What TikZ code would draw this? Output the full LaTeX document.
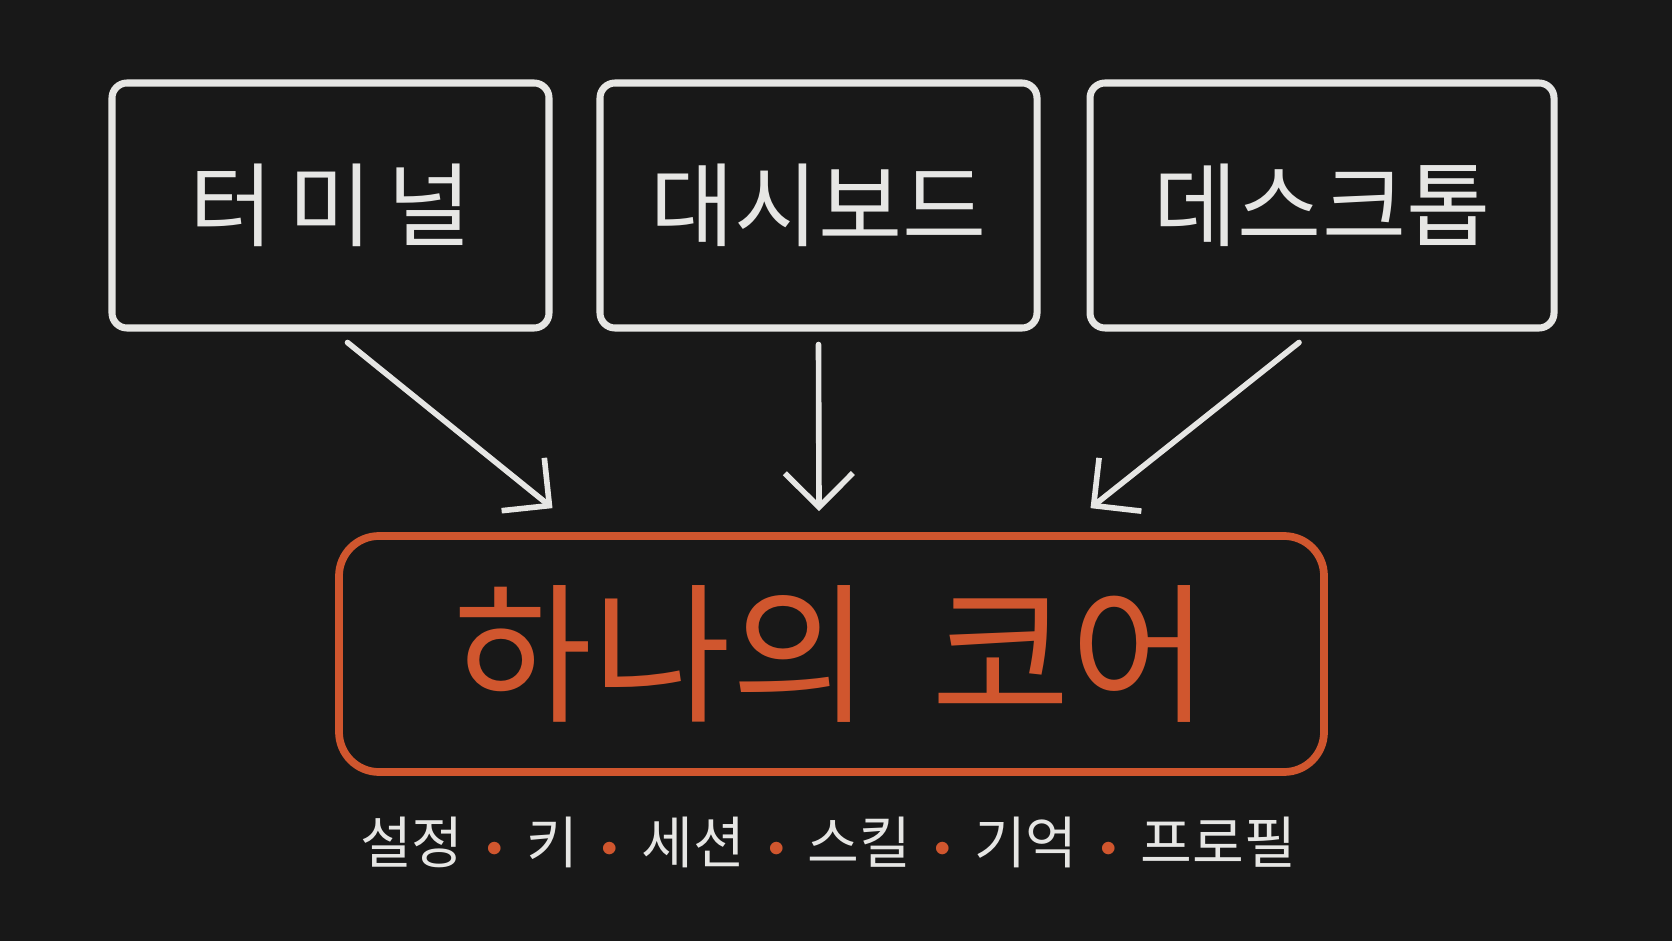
\documentclass[tikz,border=0pt]{standalone}
\usepackage{fontspec}
\usepackage{xcolor}
\usetikzlibrary{arrows.meta,positioning,calc}
\newfontfamily\kr{Noto Sans CJK KR}
\definecolor{board}{HTML}{181818}
\definecolor{chalk}{HTML}{E6E6E4}
\definecolor{rust}{HTML}{D0562E}
\tikzset{
  panel/.style={rectangle, rounded corners=1.5mm, draw=chalk, line width=2pt,
    minimum height=24.5mm, align=center, text=chalk, font=\kr\fontsize{26}{30}\selectfont},
  corebox/.style={rectangle, rounded corners=4mm, draw=rust, line width=2.2pt,
    minimum width=98.5mm, minimum height=23.6mm, text=rust, font=\kr\fontsize{43}{47}\selectfont},
  arr/.style={-{Straight Barb[length=3.4mm,width=6.8mm,line width=1.6pt]}, draw=chalk, line width=1.6pt, line cap=round},
}
\newcommand{\sep}{\hspace{0.2em}\textcolor{rust}{\fontspec{Latin Modern Roman}\textbullet}\hspace{0.2em}}

\begin{document}
\begin{tikzpicture}
  \fill[board] (0,0) rectangle (16.72,9.41);
  \useasboundingbox (0,0) rectangle (16.72,9.41);

  \node[panel, minimum width=43.7mm] (term) at (3.305,7.355) {터\,미\,널};
  \node[panel, minimum width=43.7mm] (dash) at (8.185,7.355) {대시보드};
  \node[panel, minimum width=46.4mm] (desk) at (13.22,7.355) {데스크톱};

  \node[corebox] (core) at (8.315,2.87) {하나의\hspace{0.4em}코어};
  \node[text=chalk, font=\kr\fontsize{16}{19}\selectfont] (parts) at (8.28,0.99)
    {설정\sep 키\sep 세션\sep 스킬\sep 기억\sep 프로필};

  \draw[arr] ([xshift=1.7mm,yshift=-1.1mm]term.south) -- ([xshift=-27.9mm,yshift=2.4mm]core.north);
  \draw[arr] ([yshift=-1.3mm]dash.south) -- ([xshift=-1.25mm,yshift=2.1mm]core.north);
  \draw[arr] ([xshift=-2.3mm,yshift=-1.1mm]desk.south) -- ([xshift=25.9mm,yshift=2.4mm]core.north);
\end{tikzpicture}
\end{document}
